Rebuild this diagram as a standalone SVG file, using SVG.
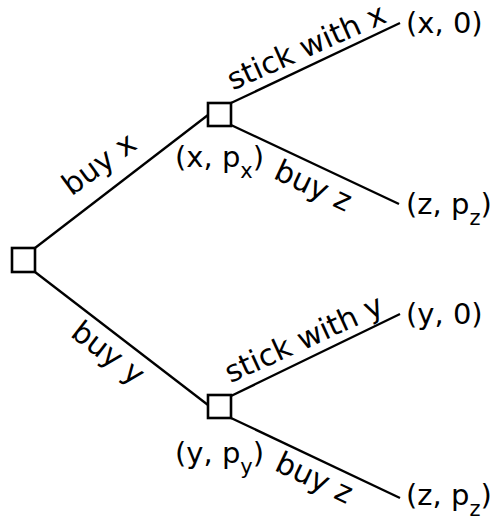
<svg xmlns="http://www.w3.org/2000/svg" width="490" height="521" viewBox="0 0 490 521">
<style>
.edge{stroke:#000;stroke-width:2.3;fill:none}
.node{fill:#fff;stroke:#000;stroke-width:2.6}
text{font-family:"DejaVu Sans",sans-serif;font-size:29px;fill:#000}
.lbl{text-anchor:middle;font-size:30px}
.sub{font-size:21px}
</style>
<rect width="490" height="521" fill="#fff"/>
<g id="connectors">
<line class="edge" x1="35" y1="248" x2="208" y2="115"/>
<line class="edge" x1="35" y1="272" x2="208" y2="405"/>
<line class="edge" x1="231" y1="103" x2="400" y2="23"/>
<line class="edge" x1="231" y1="125" x2="399" y2="204"/>
<line class="edge" x1="231" y1="396" x2="400" y2="314"/>
<line class="edge" x1="231" y1="418" x2="400" y2="498"/>
<text class="lbl" transform="translate(105,172) rotate(-36)">buy x</text>
<text class="lbl" transform="translate(102,361) rotate(37.7)">buy y</text>
<text class="lbl" transform="translate(310.5,56) rotate(-24)">stick with x</text>
<text class="lbl" transform="translate(309,195) rotate(25)">buy z</text>
<text class="lbl" transform="translate(308,348) rotate(-24.5)">stick with y</text>
<text class="lbl" transform="translate(310,487) rotate(25.3)">buy z</text>
</g>
<g id="root"><rect class="node" x="12" y="248" width="23" height="24"/></g>
<g id="nodeX">
<rect class="node" x="208" y="103" width="23" height="23"/>
<text x="175" y="167">(x, p<tspan class="sub" dy="11">x</tspan><tspan dy="-11">)</tspan></text>
</g>
<g id="nodeY">
<rect class="node" x="208" y="395" width="23" height="23"/>
<text x="175" y="463">(y, p<tspan class="sub" dy="11">y</tspan><tspan dy="-11">)</tspan></text>
</g>
<g id="leafX0"><text x="406" y="33">(x, 0)</text></g>
<g id="leafXZ"><text x="406" y="214">(z, p<tspan class="sub" dy="11">z</tspan><tspan dy="-11">)</tspan></text></g>
<g id="leafY0"><text x="406" y="324">(y, 0)</text></g>
<g id="leafYZ"><text x="406" y="505">(z, p<tspan class="sub" dy="11">z</tspan><tspan dy="-11">)</tspan></text></g>
</svg>
